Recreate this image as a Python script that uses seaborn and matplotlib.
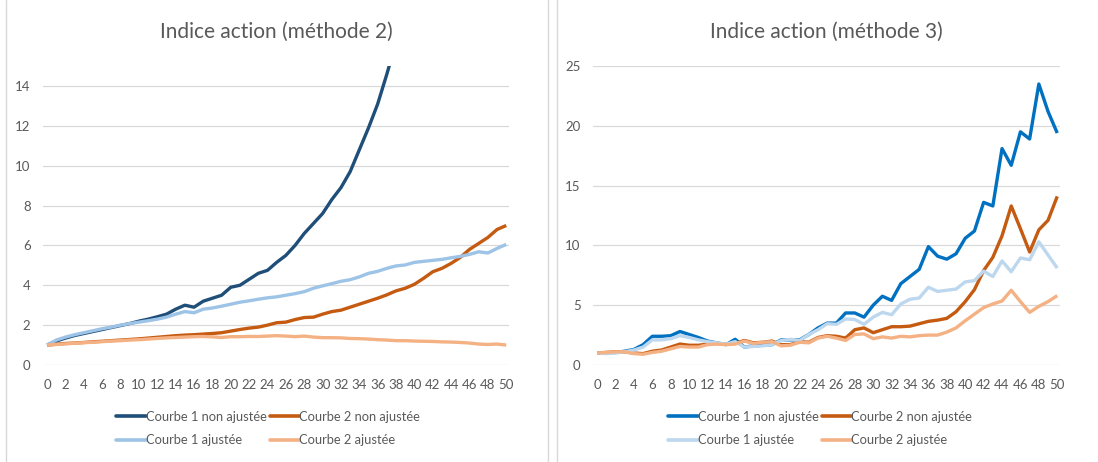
import numpy as np
import pandas as pd
import matplotlib
matplotlib.use('Agg')
import matplotlib.pyplot as plt
import seaborn as sns
from matplotlib.lines import Line2D

# x axis: 0..50
x = list(range(51))
xticks = list(range(0, 51, 2))

# Method 2 (left)
m2_c1_raw = [1.0, 1.2, 1.35, 1.48, 1.58, 1.68, 1.78, 1.88, 1.98, 2.08,
             2.2, 2.3, 2.42, 2.55, 2.8, 3.0, 2.9, 3.2, 3.35, 3.5,
             3.9, 4.0, 4.3, 4.6, 4.75, 5.15, 5.5, 6.0, 6.6, 7.1,
             7.6, 8.3, 8.9, 9.7, 10.8, 11.9, 13.1, 14.6, 16.2] + [np.nan] * 12
m2_c2_raw = [1.0, 1.04, 1.08, 1.1, 1.13, 1.16, 1.19, 1.22, 1.25, 1.28,
             1.31, 1.35, 1.39, 1.43, 1.47, 1.5, 1.52, 1.55, 1.58, 1.62,
             1.7, 1.78, 1.85, 1.9, 2.0, 2.12, 2.15, 2.28, 2.38, 2.4,
             2.55, 2.68, 2.75, 2.9, 3.05, 3.2, 3.35, 3.52, 3.72, 3.85,
             4.05, 4.35, 4.68, 4.85, 5.1, 5.4, 5.8, 6.1, 6.4, 6.8, 7.0]
m2_c1_adj = [1.0, 1.25, 1.4, 1.52, 1.62, 1.72, 1.82, 1.9, 2.0, 2.08,
             2.15, 2.22, 2.3, 2.4, 2.55, 2.68, 2.62, 2.8, 2.86, 2.95,
             3.05, 3.15, 3.22, 3.3, 3.37, 3.42, 3.5, 3.58, 3.68, 3.85,
             3.97, 4.08, 4.2, 4.28, 4.42, 4.6, 4.7, 4.85, 4.97, 5.02,
             5.15, 5.2, 5.25, 5.3, 5.38, 5.45, 5.55, 5.68, 5.62, 5.85, 6.05]
m2_c2_adj = [1.0, 1.03, 1.06, 1.09, 1.12, 1.14, 1.17, 1.2, 1.22, 1.25,
             1.27, 1.3, 1.33, 1.36, 1.38, 1.4, 1.42, 1.43, 1.41, 1.38,
             1.42, 1.42, 1.43, 1.43, 1.45, 1.47, 1.45, 1.42, 1.45, 1.4,
             1.37, 1.37, 1.36, 1.33, 1.32, 1.3, 1.27, 1.25, 1.22, 1.22,
             1.2, 1.19, 1.18, 1.16, 1.15, 1.13, 1.1, 1.05, 1.03, 1.05, 1.0]

# Method 3 (right)
m3_c1_raw = [1.0, 1.0, 1.05, 1.15, 1.3, 1.7, 2.4, 2.4, 2.45, 2.8,
             2.55, 2.3, 2.0, 1.85, 1.7, 2.15, 1.5, 1.6, 1.65, 1.7,
             2.1, 2.1, 2.1, 2.55, 3.1, 3.5, 3.5, 4.35, 4.35, 4.0,
             5.0, 5.75, 5.4, 6.8, 7.4, 8.0, 9.9, 9.1, 8.85, 9.3,
             10.6, 11.2, 13.6, 13.3, 18.1, 16.7, 19.5, 18.9, 23.5, 21.2, 19.4]
m3_c2_raw = [1.0, 1.05, 1.1, 1.1, 1.0, 0.95, 1.15, 1.25, 1.5, 1.75,
             1.65, 1.65, 1.75, 1.8, 1.75, 1.8, 2.05, 1.85, 1.9, 2.0,
             1.7, 1.7, 1.95, 1.9, 2.3, 2.45, 2.4, 2.25, 2.95, 3.1,
             2.7, 2.95, 3.2, 3.2, 3.25, 3.45, 3.65, 3.75, 3.9, 4.45,
             5.3, 6.3, 7.9, 9.0, 10.8, 13.3, 11.4, 9.45, 11.3, 12.1, 14.1]
m3_c1_adj = [1.0, 0.95, 1.0, 1.1, 1.25, 1.5, 2.1, 2.1, 2.2, 2.45,
             2.3, 2.1, 1.95, 1.85, 1.75, 1.95, 1.5, 1.55, 1.6, 1.7,
             2.05, 2.15, 2.05, 2.55, 2.95, 3.45, 3.4, 3.85, 3.8, 3.4,
             4.0, 4.4, 4.2, 5.1, 5.5, 5.6, 6.5, 6.15, 6.25, 6.35,
             6.95, 7.05, 7.85, 7.4, 8.7, 7.8, 8.95, 8.8, 10.3, 9.2, 8.1]
m3_c2_adj = [1.0, 1.05, 1.1, 1.1, 0.95, 0.9, 1.05, 1.15, 1.35, 1.55,
             1.5, 1.5, 1.7, 1.75, 1.7, 1.75, 2.0, 1.8, 1.9, 1.95,
             1.6, 1.65, 1.9, 1.85, 2.25, 2.4, 2.25, 2.05, 2.55, 2.6,
             2.2, 2.35, 2.25, 2.4, 2.35, 2.45, 2.5, 2.5, 2.75, 3.1,
             3.7, 4.25, 4.8, 5.1, 5.35, 6.25, 5.3, 4.4, 4.9, 5.3, 5.8]

labels = ['Courbe 1 non ajustée', 'Courbe 1 ajustée', 'Courbe 2 non ajustée', 'Courbe 2 ajustée']
colors_m2 = ['#1F4E79', '#9DC3E6', '#C55A11', '#F4B183']
colors_m3 = ['#0070C0', '#BDD7EE', '#C55A11', '#F4B183']

sns.set_theme(style='white')
plt.rcParams['font.family'] = ['Lato', 'DejaVu Sans']

fig = plt.figure(figsize=(10.98, 4.62), dpi=100)
ax1 = fig.add_axes([43 / 1098, 0.21, 466 / 1098, 0.647])
ax2 = fig.add_axes([593 / 1098, 0.21, 467 / 1098, 0.647])

grey = '#595959'
panels = [
    (ax1, 'Indice action (méthode 2)', [m2_c1_raw, m2_c1_adj, m2_c2_raw, m2_c2_adj], colors_m2,
     15, [0, 2, 4, 6, 8, 10, 12, 14], 268),
    (ax2, 'Indice action (méthode 3)', [m3_c1_raw, m3_c1_adj, m3_c2_raw, m3_c2_adj], colors_m3,
     25, [0, 5, 10, 15, 20, 25], 820),
]

for ax, title, series, cols, ymax, yticks, legx in panels:
    # draw in the Excel series order
    for i in [0, 2, 1, 3]:
        sns.lineplot(x=x, y=series[i], color=cols[i], linewidth=2.4, ax=ax,
                     solid_joinstyle='round', solid_capstyle='butt')
    ax.set_xlim(-0.45, 50.3)
    ax.set_ylim(0, ymax)
    ax.set_xticks(xticks)
    ax.set_yticks(yticks)
    ax.tick_params(axis='both', labelsize=9.5, colors=grey, length=0)
    ax.tick_params(axis='x', pad=10)
    ax.tick_params(axis='y', pad=9)
    ax.grid(axis='y', color='#D9D9D9', linewidth=0.9)
    ax.grid(axis='x', visible=False)
    for s in ax.spines.values():
        s.set_visible(False)
    ax.set_title(title, fontsize=15, color=grey, pad=20)
    handles = [Line2D([], [], color=c, linewidth=2.6) for c in cols]
    ax.legend(handles, labels, ncol=2, loc='center', frameon=False,
              bbox_to_anchor=(legx / 1098, 0.0725), bbox_transform=fig.transFigure,
              fontsize=9.3, handlelength=2.3, handletextpad=0.0, columnspacing=0.25,
              labelspacing=0.9, labelcolor=grey)

# chart area borders
for xb in [6, 548, 557]:
    fig.add_artist(Line2D([xb / 1098, xb / 1098], [0, 1], color='#D9D9D9', linewidth=1,
                          transform=fig.transFigure))

fig.savefig('out.png', dpi=100)
